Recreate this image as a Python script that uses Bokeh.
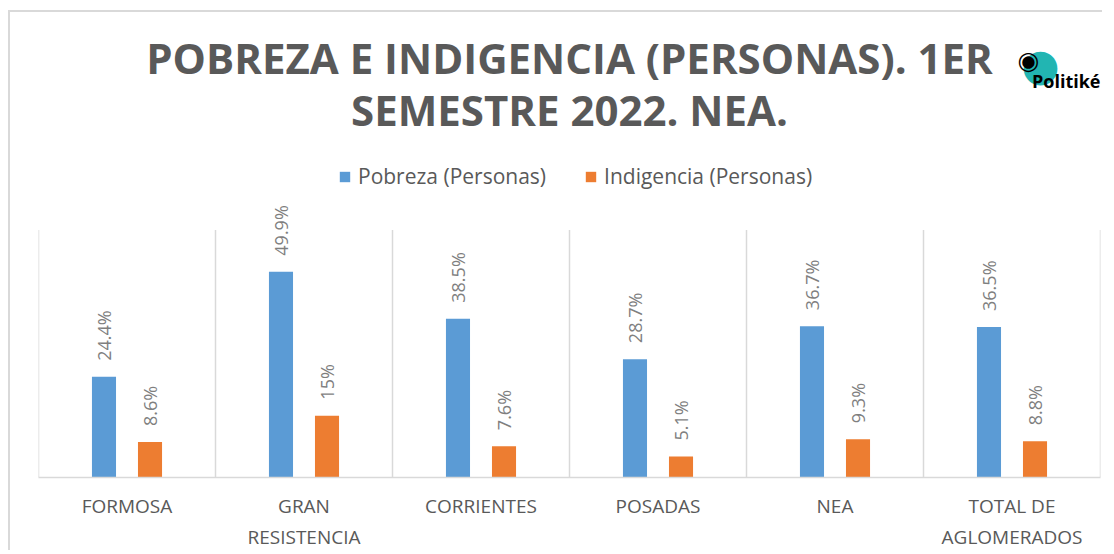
import math
from bokeh.plotting import figure
from bokeh.models import (ColumnDataSource, Range1d, FixedTicker, LabelSet, Label,
                          Legend, LegendItem)
from bokeh.core.properties import value
from bokeh.embed import file_html
from bokeh.resources import INLINE

# ---------------- data ----------------
categories = ["FORMOSA", "GRAN\nRESISTENCIA", "CORRIENTES", "POSADAS", "NEA",
              "TOTAL DE\nAGLOMERADOS"]
pobreza = [24.4, 49.9, 38.5, 28.7, 36.7, 36.5]
indigencia = [8.6, 15.0, 7.6, 5.1, 9.3, 8.8]
pobreza_labels = ["24.4%", "49.9%", "38.5%", "28.7%", "36.7%", "36.5%"]
indigencia_labels = ["8.6%", "15%", "7.6%", "5.1%", "9.3%", "8.8%"]
series_names = ["Pobreza (Personas)", "Indigencia (Personas)"]
title_lines = ["POBREZA E INDIGENCIA (PERSONAS). 1ER", "SEMESTRE 2022. NEA."]
logo_text = "Politiké"
y_max = 60

# ---------------- layout (page pixels) ----------------
OX, OY = 10, 12                     # canvas origin on the page
PL, PR, PT, PB = 38, 1100, 230, 478  # bar area on the page
W, H = 1094, 540
n = len(categories)
px_per_x = (PR - PL) / n
px_per_y = (PB - PT) / y_max


def dx(page_x):
    return (page_x - PL) / px_per_x


def dy(page_y):
    return (PB - page_y) / px_per_y


BLUE = "#5B9BD5"
ORANGE = "#ED7D31"
GRAY_TXT = "#595959"
GRID = "#D9D9D9"

offset = 0.13
bar_w = 0.136
centers = [i + 0.5 for i in range(n)]
src = ColumnDataSource(dict(
    xp=[c - offset for c in centers],
    xi=[c + offset for c in centers],
    pobreza=pobreza, indigencia=indigencia,
    plab=pobreza_labels, ilab=indigencia_labels,
))
bounds = list(range(n + 1))

p = figure(width=W, height=H, x_range=Range1d(0, n),
           y_range=Range1d(0, (PB - OY) / px_per_y),
           output_backend="svg", toolbar_location=None, y_axis_location=None,
           min_border_left=PL - OX, min_border_right=W - (PR - OX),
           min_border_top=0, min_border_bottom=H - (PB - OY))
p.styles = {"margin-left": "8px", "margin-top": "10px",
            "border-left": "2px solid #d9d9d9", "border-top": "2px solid #d9d9d9"}
p.outline_line_color = None
p.background_fill_color = "white"
p.border_fill_color = "white"
p.xgrid.visible = False
p.ygrid.visible = False

# category separators (grid) from 0 to the top of the value axis
p.segment(x0=bounds, x1=bounds, y0=[0] * len(bounds), y1=[y_max] * len(bounds),
          line_color=GRID, line_width=1.5)

r1 = p.vbar(x="xp", top="pobreza", width=bar_w, source=src,
            fill_color=BLUE, line_color=None)
r2 = p.vbar(x="xi", top="indigencia", width=bar_w, source=src,
            fill_color=ORANGE, line_color=None)

ax = p.xaxis[0]
ax.ticker = FixedTicker(ticks=centers)
ax.major_label_overrides = {c: lab for c, lab in zip(centers, categories)}
ax.axis_line_color = GRID
ax.axis_line_width = 1.5
ax.major_tick_line_color = None
ax.minor_tick_line_color = None
ax.major_tick_out = 0
ax.major_tick_in = 0
ax.major_label_standoff = 15
ax.major_label_text_font = "Open Sans"
ax.major_label_text_font_size = "19px"
ax.major_label_text_color = GRAY_TXT

# value labels
for xcol, ycol, tcol in (("xp", "pobreza", "plab"), ("xi", "indigencia", "ilab")):
    p.add_layout(LabelSet(x=xcol, y=ycol, text=tcol, source=src, angle=math.pi / 2,
                          text_align="left", text_baseline="middle", y_offset=16,
                          text_font=value("Open Sans"), text_font_size=value("18px"),
                          text_color="#7F7F7F"))

# legend
legend = Legend(items=[LegendItem(label=series_names[0], renderers=[r1]),
                       LegendItem(label=series_names[1], renderers=[r2])],
                orientation="horizontal", location=(300, 287),
                border_line_color=None, background_fill_alpha=0,
                padding=0, margin=0, spacing=38, glyph_width=13, glyph_height=13,
                label_standoff=7, label_height=22,
                label_text_font="Open Sans", label_text_font_size="21px",
                label_text_color=GRAY_TXT)
p.add_layout(legend)

# title
for line, py in zip(title_lines, (57, 109)):
    p.add_layout(Label(x=n / 2, y=dy(py), text=line, text_align="center",
                       text_baseline="alphabetic", text_font="Open Sans",
                       text_font_style="bold", text_font_size="42px",
                       text_color=GRAY_TXT))

# logo
p.add_layout(Label(x=dx(1040), y=dy(64), text="●", text_align="center",
                   text_baseline="middle", text_font="DejaVu Sans",
                   text_font_size="44px", text_color="#22B5B2"))
p.add_layout(Label(x=dx(1028), y=dy(60), text="◉", text_align="center",
                   text_baseline="middle", text_font="DejaVu Sans",
                   text_font_size="25px", text_color="black"))
p.add_layout(Label(x=dx(1100), y=dy(81), text=logo_text, text_align="right",
                   text_baseline="alphabetic", text_font="Open Sans",
                   text_font_style="bold", text_font_size="18px",
                   text_color="black"))

open("out.html", "w").write(file_html(p, INLINE))
